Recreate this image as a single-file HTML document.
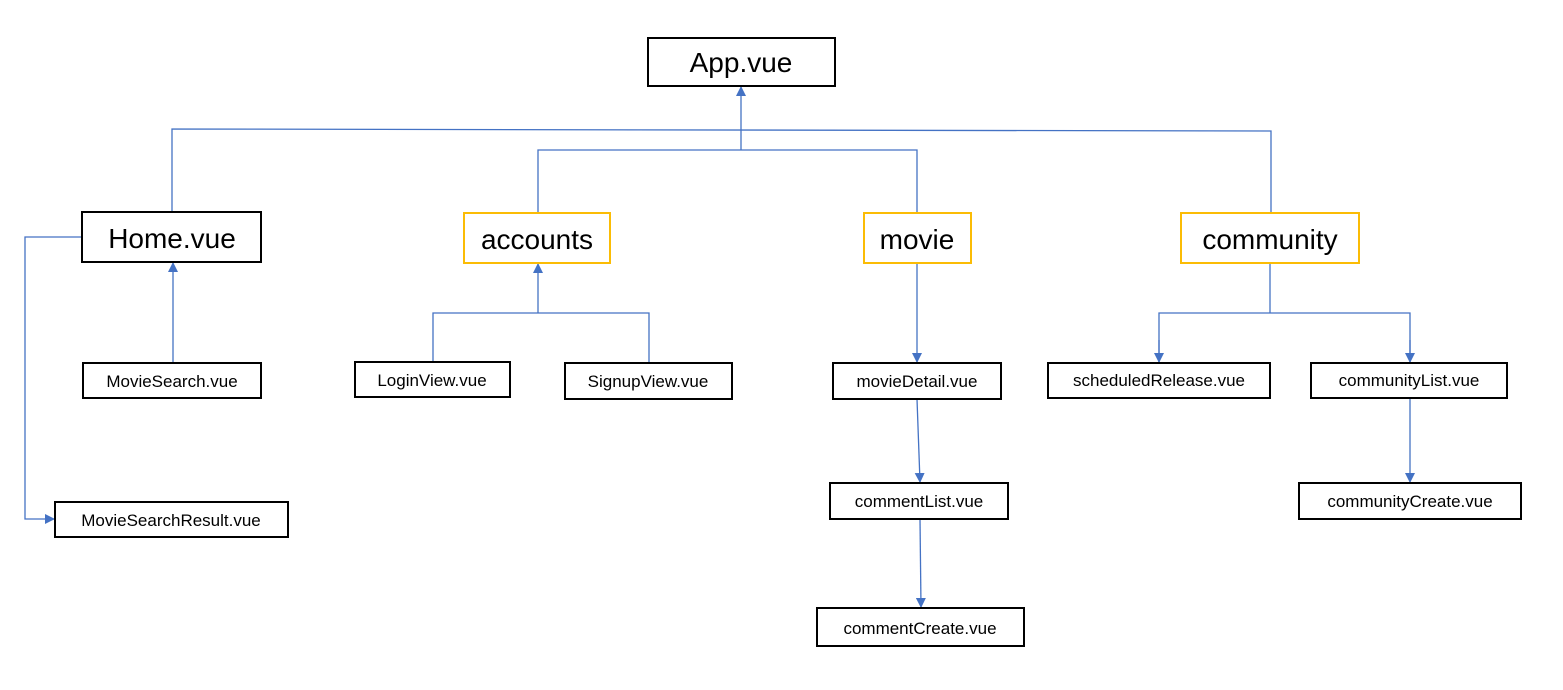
<!DOCTYPE html>
<html><head><meta charset="utf-8"><style>
html,body{margin:0;padding:0;background:#fff;width:1563px;height:690px;overflow:hidden}
text{font-family:"Liberation Sans","Noto Sans CJK KR",sans-serif;fill:#000}
</style></head><body>
<svg width="1563" height="690" viewBox="0 0 1563 690" xmlns="http://www.w3.org/2000/svg">
<defs><marker id="a" markerWidth="10" markerHeight="10" refX="9" refY="5" orient="auto" markerUnits="userSpaceOnUse"><path d="M0,0 L10,5 L0,10 z" fill="#4472c4"/></marker></defs>
<g stroke="#4472c4" stroke-width="1.3" fill="none">
<polyline points="172,212 172,129 1271,131 1271,213"/>
<polyline points="538,213 538,150 917,150 917,213"/>
<line x1="741" y1="150" x2="741" y2="87" marker-end="url(#a)"/>
<line x1="173" y1="363" x2="173" y2="263" marker-end="url(#a)"/>
<polyline points="433,362 433,313 649,313 649,363"/>
<line x1="538" y1="313" x2="538" y2="264" marker-end="url(#a)"/>
<line x1="917" y1="263" x2="917" y2="362" marker-end="url(#a)"/>
<line x1="917" y1="399" x2="920" y2="482" marker-end="url(#a)"/>
<line x1="920" y1="519" x2="921" y2="607" marker-end="url(#a)"/>
<polyline points="1270,263 1270,313"/>
<polyline points="1159,362 1159,313 1410,313 1410,362" marker-start="none"/>
<line x1="1159" y1="340" x2="1159" y2="362" marker-end="url(#a)"/>
<line x1="1410" y1="340" x2="1410" y2="362" marker-end="url(#a)"/>
<line x1="1410" y1="398" x2="1410" y2="482" marker-end="url(#a)"/>
<polyline points="82,237 25,237 25,519 54,519" marker-end="url(#a)"/>
</g>
<g fill="#fff" stroke-width="2">
<rect x="648" y="38" width="187" height="48" stroke="#000"/>
<rect x="82" y="212" width="179" height="50" stroke="#000"/>
<rect x="464" y="213" width="146" height="50" stroke="#fbbc05"/>
<rect x="864" y="213" width="107" height="50" stroke="#fbbc05"/>
<rect x="1181" y="213" width="178" height="50" stroke="#fbbc05"/>
<rect x="83" y="363" width="178" height="35" stroke="#000"/>
<rect x="355" y="362" width="155" height="35" stroke="#000"/>
<rect x="565" y="363" width="167" height="36" stroke="#000"/>
<rect x="833" y="363" width="168" height="36" stroke="#000"/>
<rect x="1048" y="363" width="222" height="35" stroke="#000"/>
<rect x="1311" y="363" width="196" height="35" stroke="#000"/>
<rect x="55" y="502" width="233" height="35" stroke="#000"/>
<rect x="830" y="483" width="178" height="36" stroke="#000"/>
<rect x="1299" y="483" width="222" height="36" stroke="#000"/>
<rect x="817" y="608" width="207" height="38" stroke="#000"/>
</g>
<g text-anchor="middle">
<text x="741" y="72" font-size="28">App.vue</text>
<text x="172" y="248" font-size="28">Home.vue</text>
<text x="537" y="249" font-size="28">accounts</text>
<text x="917" y="249" font-size="28">movie</text>
<text x="1270" y="249" font-size="28">community</text>
<g font-size="17">
<text x="172" y="387">MovieSearch.vue</text>
<text x="432" y="386">LoginView.vue</text>
<text x="648" y="387">SignupView.vue</text>
<text x="917" y="387">movieDetail.vue</text>
<text x="1159" y="386">scheduledRelease.vue</text>
<text x="1409" y="386">communityList.vue</text>
<text x="171" y="526">MovieSearchResult.vue</text>
<text x="919" y="507">commentList.vue</text>
<text x="1410" y="507">communityCreate.vue</text>
<text x="920" y="634">commentCreate.vue</text>
</g></g>
</svg>
</body></html>
